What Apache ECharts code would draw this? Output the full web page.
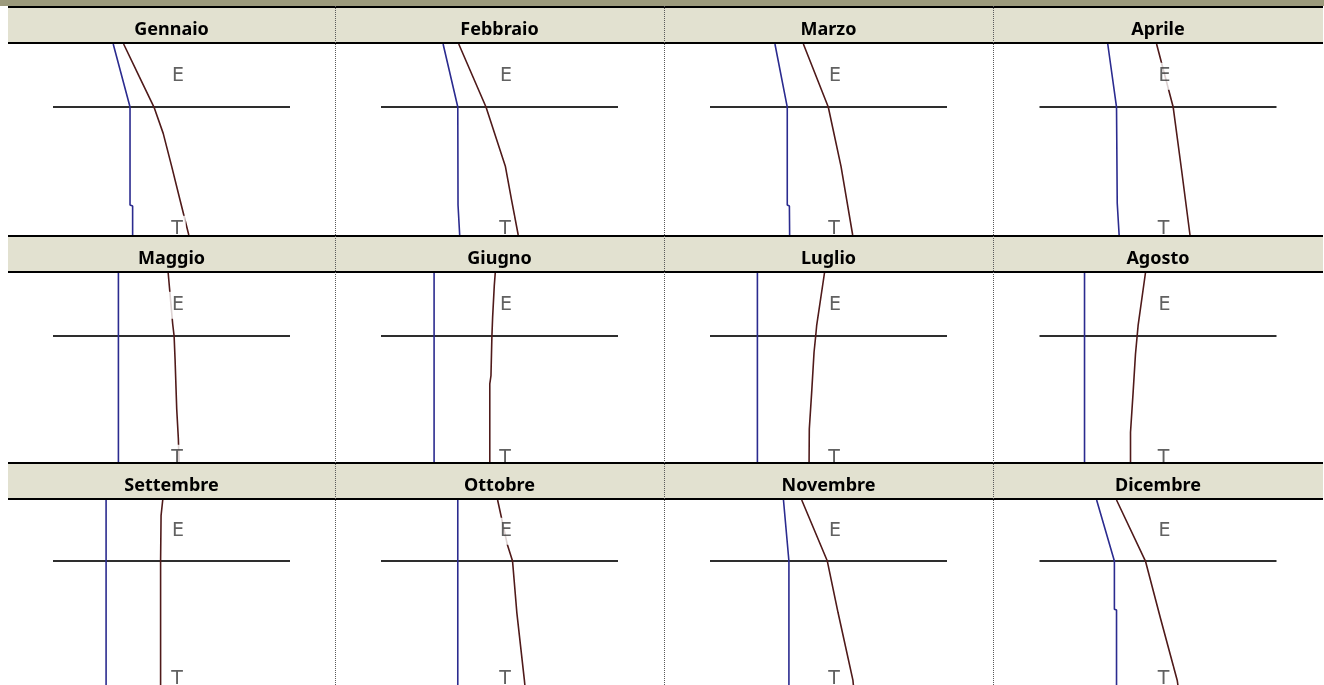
<!DOCTYPE html>
<html>
<head>
<meta charset="utf-8">
<title>Grafici mensili</title>
<script src="https://cdn.jsdelivr.net/npm/echarts@6/dist/echarts.min.js"></script>
<style>
  html, body { margin: 0; padding: 0; background: #fff; }
  #chart { width: 1324px; height: 685px; }
</style>
</head>
<body>
<div id="chart"></div>
<script>
// mesi, uno per pannello (4 colonne x 3 righe)
const mesi = ['Gennaio', 'Febbraio', 'Marzo', 'Aprile', 'Maggio', 'Giugno',
  'Luglio', 'Agosto', 'Settembre', 'Ottobre', 'Novembre', 'Dicembre'];

// profondita' dell'interfaccia (linea orizzontale), scala 0-100 dall'alto
const interfaccia = 33;

// linea blu: [x, profondita'] per ogni mese
const lineaBlu = [
  [[25.4, 0], [32.5, 33], [32.5, 84.3], [33.6, 84.8], [33.6, 100]],
  [[26.2, 0], [32.4, 33], [32.5, 84.3], [33.1, 84.8], [33.2, 100]],
  [[27.4, 0], [32.6, 33], [32.6, 84.3], [33.5, 84.8], [33.6, 100]],
  [[28.8, 0], [32.5, 33], [32.8, 83.4], [33.5, 83.9], [33.6, 100]],
  [[27.6, 0], [27.6, 100]],
  [[22.4, 0], [22.4, 100]],
  [[20.0, 0], [20.0, 100]],
  [[19.0, 0], [19.0, 100]],
  [[22.4, 0], [22.4, 100]],
  [[32.4, 0], [32.4, 100]],
  [[31.0, 0], [33.3, 33], [33.3, 100]],
  [[24.1, 0], [31.6, 33], [31.6, 59], [32.5, 59.5], [32.5, 100]]
];

// linea marrone: [x, profondita'] per ogni mese
const lineaMarrone = [
  [[29.8, 0], [36.4, 17.1], [42.6, 33], [46.5, 46.8], [50.1, 64.2], [53.6, 81.7], [57.3, 100]],
  [[32.8, 0], [44.3, 33], [52.5, 64.2], [55.1, 81.7], [57.9, 100]],
  [[39.4, 0], [49.9, 33], [55.3, 64.2], [57.7, 81.7], [60.2, 100]],
  [[49.4, 0], [56.4, 33], [60.0, 66.5], [63.5, 100]],
  [[48.6, 0], [50.5, 26.7], [51.1, 33], [51.5, 45], [52.2, 71.2], [52.9, 86.9], [53.2, 100]],
  [[48.2, 0], [47.8, 6.6], [47.1, 23.2], [46.8, 33], [46.4, 53.8], [45.9, 58.1], [45.9, 100]],
  [[48.3, 0], [45.0, 27.6], [44.6, 33], [43.9, 41.5], [42.9, 62.5], [41.9, 81.7], [41.8, 100]],
  [[44.7, 0], [41.6, 27.6], [41.2, 33], [40.5, 42.4], [39.5, 62.5], [38.4, 83.4], [38.4, 100]],
  [[46.3, 0], [45.6, 8.4], [45.4, 33], [45.4, 100]],
  [[49.2, 0], [53.3, 24.1], [55.5, 33], [57.3, 60.7], [60.5, 97.4], [60.7, 100]],
  [[38.7, 0], [49.5, 33], [54.0, 60.7], [60.3, 97.4], [60.5, 100]],
  [[32.5, 0], [44.7, 33], [51.1, 64.2], [58.1, 97.4], [58.4, 100]]
];

// etichette E / T
const posE = [52.7, 16.9];
const posT = [52.3, 97];

const colEdges = [8, 335, 664, 993, 1323];
const rowTops = [6, 235, 462];
const plotW = 237;
const contentH = 191;

const chart = echarts.init(document.getElementById('chart'));

const grid = [], xAxis = [], yAxis = [], series = [];
const graphic = [
  { type: 'rect', shape: { x: 0, y: 0, width: 1324, height: 6 }, style: { fill: '#9c9a7c' }, z: 50 }
];

rowTops.forEach(function (t) {
  graphic.push({ type: 'rect', shape: { x: 8, y: t, width: 1315, height: 2 }, style: { fill: '#000' }, z: 50 });
  graphic.push({ type: 'rect', shape: { x: 8, y: t + 2, width: 1315, height: 34 }, style: { fill: '#e2e1d0' }, z: 49 });
  graphic.push({ type: 'rect', shape: { x: 8, y: t + 36, width: 1315, height: 2 }, style: { fill: '#000' }, z: 50 });
});

[1, 2, 3].forEach(function (k) {
  graphic.push({
    type: 'line',
    shape: { x1: colEdges[k] + 0.5, y1: 6, x2: colEdges[k] + 0.5, y2: 685 },
    style: { stroke: '#5a5a5a', lineWidth: 1, lineDash: [1, 1] },
    z: 51
  });
});

mesi.forEach(function (mese, i) {
  const r = Math.floor(i / 4), c = i % 4;
  const cx = (colEdges[c] + colEdges[c + 1]) / 2;
  const top = rowTops[r] + 38;

  grid.push({ left: cx - plotW / 2, top: top, width: plotW, height: contentH });
  xAxis.push({ type: 'value', gridIndex: i, min: 0, max: 100, show: false });
  yAxis.push({ type: 'value', gridIndex: i, min: 0, max: 100, inverse: true, show: false });

  series.push({
    type: 'line', xAxisIndex: i, yAxisIndex: i, silent: true, symbol: 'none',
    data: [[0, interfaccia], [100, interfaccia]],
    lineStyle: { color: '#2e2e2e', width: 2 }
  });
  series.push({
    type: 'line', xAxisIndex: i, yAxisIndex: i, silent: true, symbol: 'none',
    data: lineaBlu[i],
    lineStyle: { color: '#2b2b8f', width: 1.6 }
  });
  series.push({
    type: 'line', xAxisIndex: i, yAxisIndex: i, silent: true, symbol: 'none',
    data: lineaMarrone[i],
    lineStyle: { color: '#4f1a1a', width: 1.6 }
  });
  series.push({
    type: 'scatter', xAxisIndex: i, yAxisIndex: i, silent: true, z: 5,
    symbolSize: 1,
    itemStyle: { color: 'rgba(0,0,0,0)' },
    data: [
      { value: posE, label: { formatter: 'E' } },
      { value: posT, label: { formatter: 'T' } }
    ],
    label: {
      show: true, position: 'inside', color: '#3a3a3a',
      fontFamily: 'DejaVu Sans', fontSize: 19,
      backgroundColor: '#fff', padding: [4, 3, 4, 3]
    }
  });

  graphic.push({
    type: 'text', x: cx, y: rowTops[r] + 24, z: 52,
    style: {
      text: mese, fill: '#000',
      font: 'bold 18px "Noto Sans"',
      textAlign: 'center', textVerticalAlign: 'middle'
    }
  });
});

chart.setOption({
  animation: false,
  grid: grid,
  xAxis: xAxis,
  yAxis: yAxis,
  series: series,
  graphic: graphic
});
</script>
</body>
</html>
